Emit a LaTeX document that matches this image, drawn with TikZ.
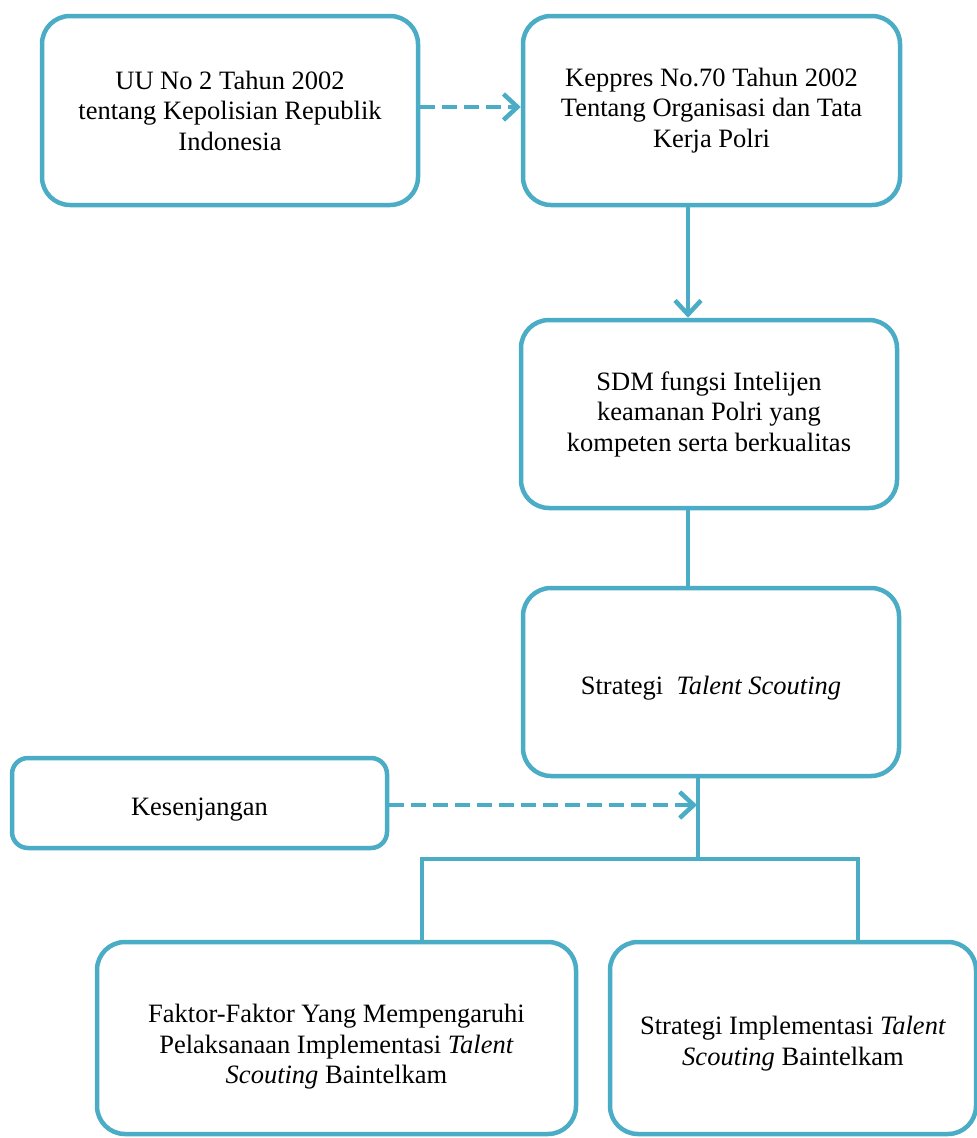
\documentclass[tikz,border=0pt]{standalone}
\usepackage{fontspec}
\setmainfont{Liberation Serif}[Ligatures=TeX]
\usetikzlibrary{arrows.meta}
\definecolor{acc}{HTML}{4BACC6}
\begin{document}
\begin{tikzpicture}[x=1pt,y=-1pt,
  box/.style={draw=acc,line width=4.5pt,rounded corners=28pt,fill=white,align=center,inner sep=0pt,
    font=\fontsize{26.5}{30.5}\selectfont},
  link/.style={draw=acc,line width=4.5pt},
  tip/.style={-{Straight Barb[length=14pt,width=26pt,line width=4.5pt]}},
  dlink/.style={link,dash pattern=on 15pt off 7pt,tip},
  alink/.style={link,tip}]
\useasboundingbox (0,0) rectangle (977,1138);
\node[box,minimum width=376pt,minimum height=189pt] (a) at (230,110.5) {UU No 2 Tahun 2002\\tentang Kepolisian Republik\\Indonesia};
\node[box,minimum width=377pt,minimum height=189pt] (b) at (711.5,110.5) {Keppres No.70 Tahun 2002\\Tentang Organisasi dan Tata\\Kerja Polri};
\node[box,minimum width=376pt,minimum height=188pt] (c) at (709,414) {SDM fungsi Intelijen\\keamanan Polri yang\\kompeten serta berkualitas};
\node[box,minimum width=376pt,minimum height=188pt] (d) at (711,682) {\rule{0pt}{30pt}Strategi \ \textit{Talent Scouting}};
\node[box,minimum width=375pt,minimum height=90pt,rounded corners=16pt] (k) at (199.5,803) {\rule{0pt}{30pt}Kesenjangan};
\node[box,minimum width=479pt,minimum height=192pt] (e) at (336.5,1038) {\rule{0pt}{36pt}Faktor-Faktor Yang Mempengaruhi\\Pelaksanaan Implementasi \textit{Talent}\\\textit{Scouting} Baintelkam};
\node[box,minimum width=366pt,minimum height=192pt] (f) at (793,1038) {\rule{0pt}{30pt}Strategi Implementasi \textit{Talent}\\\textit{Scouting} Baintelkam};
\coordinate (j) at (698,859);
\coordinate (ka) at (697,805);
\coordinate (jl) at (420,859);
\coordinate (jr) at (860,859);
\draw[dlink] (a.east |- 0,107) -- (b.west |- 0,107);
\draw[alink] (b.south -| 688,0) -- (c.north -| 688,0);
\draw[link] (c.south -| 688,0) -- (d.north -| 688,0);
\draw[link] (d.south -| j) -- (j);
\draw[dlink] (k.east |- ka) -- (ka);
\draw[link] (jl) -- (jr);
\draw[link] (jl -| 422,0) -- (e.north -| 422,0);
\draw[link] (jr -| 858,0) -- (f.north -| 858,0);
\end{tikzpicture}
\end{document}
